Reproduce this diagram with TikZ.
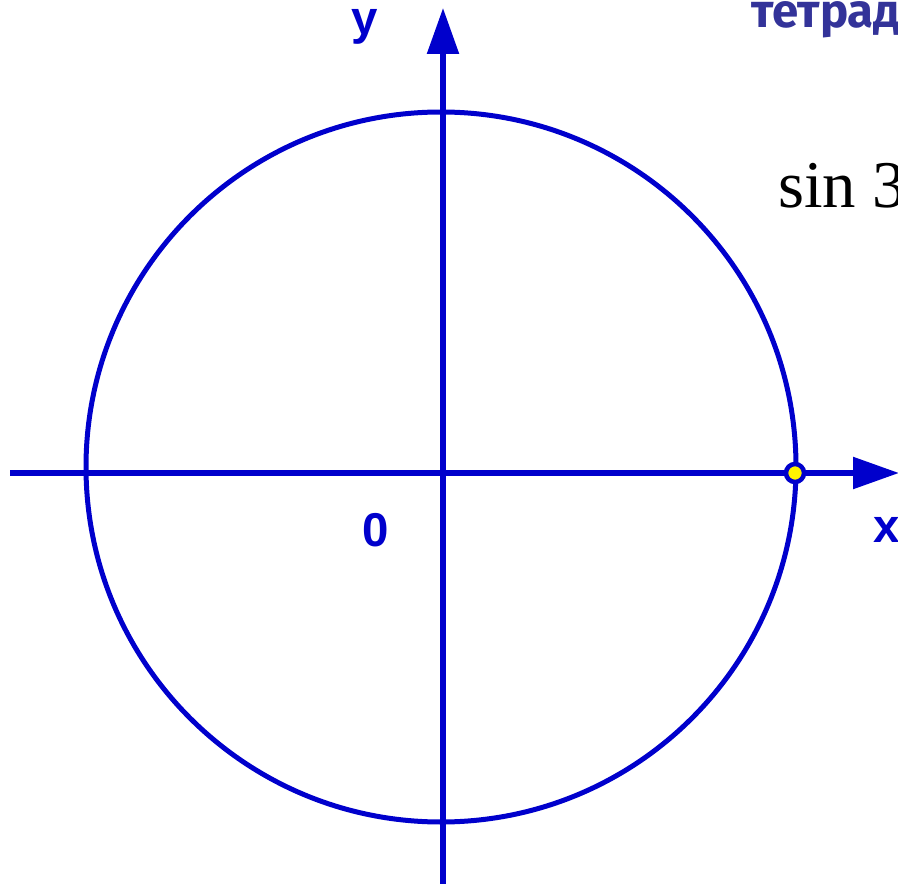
\documentclass[tikz,border=0pt]{standalone}
\usepackage{fontspec}
\setmainfont{Liberation Serif}
\setsansfont{Liberation Sans}
\newfontfamily\notefont{Fira Sans}
\usetikzlibrary{arrows.meta, positioning}
\definecolor{axisblue}{RGB}{0, 0, 204}
\definecolor{noteblue}{RGB}{51, 51, 153}

\begin{document}
\begin{tikzpicture}[
    x=0.02cm, y=-0.02cm,
    axis/.style={axisblue, line width=0.11cm, -{Triangle[length=0.92cm, width=0.62cm]}},
    ring/.style={axisblue, line width=0.1cm},
    axlabel/.style={font=\sffamily\bfseries\fontsize{27}{27}\selectfont, text=axisblue, inner sep=0pt},
    dotpt/.style={circle, draw=axisblue, fill=yellow, line width=0.09cm, minimum size=0.36cm, inner sep=0pt}
]
\useasboundingbox (0,0) rectangle (898,884);
\clip (0,0) rectangle (898,884);

% points
\coordinate (O) at (443,473);
\coordinate (C) at (441,467);
\coordinate (xs) at (10,473);
\coordinate (xe) at (899,473);
\coordinate (ys) at (443,886);
\coordinate (ye) at (443,8);

% unit circle and axes
\draw[ring] (C) circle (355);
\draw[axis] (xs) -- (xe);
\draw[axis] (ys) -- (ye);
\node[dotpt] (P) at (795,473) {};

% labels
\node[axlabel] (ylab) at (365,27) {y};
\node[axlabel] (zero) at (376,530) {0};
\node[axlabel, anchor=west] (xlab) at (873,530) {x};
\node[anchor=west, inner sep=0pt, text=noteblue, font=\notefont\bfseries\fontsize{27}{27}\selectfont] (note) at (751,20) {тетрадь};
\node[anchor=west, inner sep=0pt, font=\fontsize{38}{38}\selectfont] (sinv) at (778,186) {sin 30°};
\end{tikzpicture}
\end{document}
